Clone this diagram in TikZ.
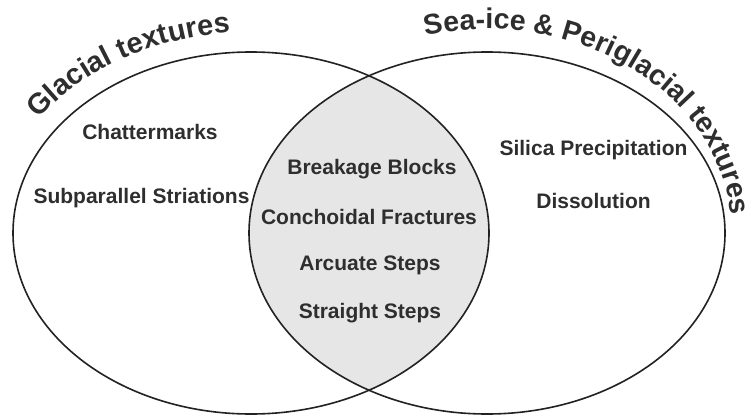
\documentclass[tikz,border=0pt]{standalone}
\usepackage{fontspec}
\setmainfont{Liberation Sans}
\usetikzlibrary{decorations.text}
\definecolor{txt}{HTML}{2E2E2E}
\definecolor{lens}{HTML}{E6E6E6}
\definecolor{edge}{HTML}{222222}
\newcommand\myttl{\fontsize{29}{31}\selectfont\bfseries}
\newcommand\myttlb{\fontsize{28.5}{31}\selectfont\bfseries}
\tikzset{
  lbl/.style={font=\fontsize{21}{24}\selectfont\bfseries, text=txt, anchor=base, inner sep=0pt},
  ring/.style={draw=edge, line width=1.6pt},
}
\begin{document}
\begin{tikzpicture}[x=1pt,y=1pt]
\useasboundingbox (0,0) rectangle (754,416);
\coordinate (lc) at (251,183);
\coordinate (rc) at (487,183);
\begin{scope}
  \clip (lc) ellipse [x radius=238pt, y radius=181pt];
  \fill[lens] (rc) ellipse [x radius=238pt, y radius=181pt];
\end{scope}
\draw[ring] (lc) ellipse [x radius=238pt, y radius=181pt];
\draw[ring] (rc) ellipse [x radius=238pt, y radius=181pt];
% titles
\path[decorate, decoration={text along path, text color=txt,
  text={|\myttl|Glacial textures}, text align=left}]
  ([shift={(145.5:258pt and 201pt)}]lc) arc[start angle=145.5, end angle=85, x radius=258pt, y radius=201pt];
\path[decorate, decoration={text along path, text color=txt,
  text={|\myttlb|Sea-ice {\&} Periglacial textures}, text align=left}]
  ([shift={(104.5:245pt and 204pt)}]rc) arc[start angle=104.5, end angle=-10, x radius=245pt, y radius=204pt];
% labels
\node[lbl] (chat) at (150,277) {Chattermarks};
\node[lbl] (subp) at (141.5,213) {Subparallel Striations};
\node[lbl] (brk) at (372,242) {Breakage Blocks};
\node[lbl] (conc) at (369,192) {Conchoidal Fractures};
\node[lbl] (arc) at (370,146) {Arcuate Steps};
\node[lbl] (str) at (370,98) {Straight Steps};
\node[lbl] (sil) at (593.5,261) {Silica Precipitation};
\node[lbl] (dis) at (593.5,208) {Dissolution};
\end{tikzpicture}
\end{document}
